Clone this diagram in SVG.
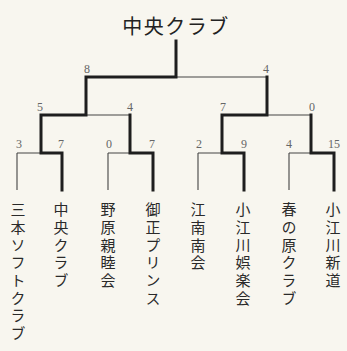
<svg xmlns="http://www.w3.org/2000/svg" width="347" height="351" viewBox="0 0 347 351">
<style>
.thin{stroke:#444;stroke-width:1.1;fill:none}
.thick{stroke:#1e1e1e;stroke-width:3;fill:none;stroke-linecap:square}
.num{font-family:"Liberation Serif",serif;font-size:12px;fill:#666;text-anchor:middle}
.name{font-family:"Noto Sans CJK JP","Noto Sans CJK SC",sans-serif;font-size:15px;fill:#2a2a2a;writing-mode:vertical-rl;letter-spacing:2.7px}
.title{font-family:"Noto Sans CJK JP","Noto Sans CJK SC",sans-serif;font-size:20px;fill:#222;text-anchor:middle;letter-spacing:1.5px}
</style>
<rect width="347" height="351" fill="#f8f6ef"/>
<g id="connectors">
<path class="thin" d="M176 77H267 M86 115H130 M266 115H311 M17 153H41 M17 153V190 M108 153H130 M108 153V190 M198 153H222 M198 153V190 M289 153H311 M289 153V190"/>
<path class="thick" d="M176 41V77H86V115H41V153H62V190"/>
<path class="thick" d="M130 115V153H153V190"/>
<path class="thick" d="M267 77V115H222V153H244V190"/>
<path class="thick" d="M311 115V153H334V190"/>
</g>
<g id="scores">
<text class="num" x="87" y="73">8</text>
<text class="num" x="266" y="73">4</text>
<text class="num" x="40" y="111">5</text>
<text class="num" x="130" y="111">4</text>
<text class="num" x="223" y="111">7</text>
<text class="num" x="312" y="111">0</text>
<text class="num" x="19" y="148">3</text>
<text class="num" x="61" y="148">7</text>
<text class="num" x="109" y="148">0</text>
<text class="num" x="152" y="148">7</text>
<text class="num" x="199" y="148">2</text>
<text class="num" x="244" y="148">9</text>
<text class="num" x="289" y="148">4</text>
<text class="num" x="334" y="148">15</text>
</g>
<g id="champion"><text class="title" x="176" y="34">中央クラブ</text></g>
<g id="team1"><text class="name" x="18" y="202">三本ソフトクラブ</text></g>
<g id="team2"><text class="name" x="61" y="202">中央クラブ</text></g>
<g id="team3"><text class="name" x="108" y="202">野原親睦会</text></g>
<g id="team4"><text class="name" x="153" y="202">御正プリンス</text></g>
<g id="team5"><text class="name" x="198" y="202">江南南会</text></g>
<g id="team6"><text class="name" x="243" y="202">小江川娯楽会</text></g>
<g id="team7"><text class="name" x="289" y="202">春の原クラブ</text></g>
<g id="team8"><text class="name" x="333" y="202">小江川新道</text></g>
</svg>
